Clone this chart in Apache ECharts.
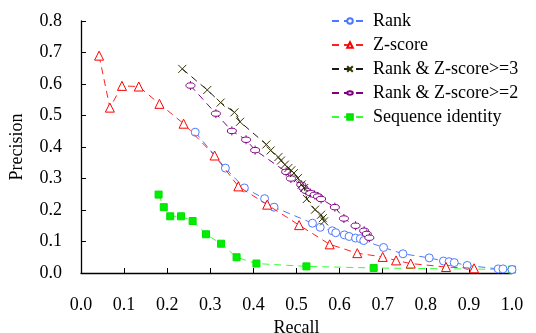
<!DOCTYPE html>
<html>
<head>
<meta charset="utf-8">
<script src="https://cdn.jsdelivr.net/npm/echarts@6/dist/echarts.min.js"></script>
<style>html,body{margin:0;padding:0;background:#fff}#c{width:536px;height:333px}</style>
</head>
<body>
<div id="c"></div>
<script>
var seriesNames = ['Rank', 'Z-score', 'Rank & Z-score>=3', 'Rank & Z-score>=2', 'Sequence identity'];
var xTicks = [0, 0.1, 0.2, 0.3, 0.4, 0.5, 0.6, 0.7, 0.8, 0.9, 1.0];
var yTicks = [0, 0.1, 0.2, 0.3, 0.4, 0.5, 0.6, 0.7, 0.8];

var rankRecall = [0.265,0.335,0.379,0.426,0.448,0.537,0.555,0.583,0.591,0.611,0.622,0.637,0.648,0.656,0.702,0.747,0.808,0.841,0.854,0.866,0.896,0.968,0.979,1.0];
var rankPrec   = [0.447,0.333,0.270,0.236,0.209,0.158,0.145,0.134,0.128,0.121,0.116,0.111,0.109,0.103,0.081,0.061,0.048,0.038,0.036,0.033,0.024,0.013,0.013,0.011];

var zRecall = [0.042,0.067,0.095,0.134,0.182,0.238,0.310,0.365,0.432,0.506,0.577,0.641,0.700,0.731,0.765,0.847,0.912];
var zPrec   = [0.690,0.525,0.594,0.592,0.537,0.474,0.373,0.275,0.217,0.152,0.091,0.063,0.051,0.040,0.030,0.019,0.015];

var rz3Recall = [0.235,0.293,0.324,0.356,0.369,0.430,0.440,0.458,0.464,0.473,0.481,0.488,0.494,0.503,0.512,0.518,0.524,0.543,0.557,0.561,0.564];
var rz3Prec   = [0.648,0.581,0.541,0.510,0.480,0.408,0.389,0.368,0.357,0.344,0.333,0.326,0.317,0.301,0.281,0.270,0.235,0.201,0.185,0.174,0.164];

var rz2Recall = [0.254,0.313,0.350,0.383,0.404,0.476,0.487,0.511,0.516,0.522,0.532,0.542,0.550,0.557,0.589,0.610,0.637,0.657,0.663,0.669];
var rz2Prec   = [0.595,0.506,0.451,0.423,0.390,0.321,0.300,0.280,0.270,0.261,0.254,0.248,0.243,0.235,0.209,0.173,0.150,0.134,0.124,0.112];

var seqRecall = [0.180,0.192,0.207,0.232,0.259,0.290,0.325,0.361,0.407,0.523,0.679,1.0];
var seqPrec   = [0.249,0.209,0.180,0.180,0.165,0.123,0.093,0.050,0.030,0.021,0.016,0.011];

function pairs(xs, ys){ return xs.map(function(x,i){ return [x, ys[i]]; }); }

var FONT = '"Liberation Serif", "Times New Roman", serif';

function mk(name, xs, ys, color, lineColor, symbol, size, fill, dash, z){
  return {
    name: name, type: 'line', data: pairs(xs, ys),
    symbol: symbol, symbolSize: size, showSymbol: true,
    lineStyle: {color: lineColor, width: 1, type: dash},
    itemStyle: {color: fill, borderColor: color, borderWidth: 1},
    z: z, animation: false
  };
}

var chart = echarts.init(document.getElementById('c'), null, {renderer:'canvas'});
var option = {
  animation: false,
  textStyle: {fontFamily: FONT, fontSize: 18, color: '#000'},
  grid: {left: 81, right: 24, top: 21, bottom: 60, containLabel: false, outerBoundsMode: 'none'},
  legend: {
    orient: 'vertical', left: 326, top: 7,
    itemWidth: 36, itemHeight: 7, itemGap: 6,
    textStyle: {fontFamily: FONT, fontSize: 18, color: '#000'},
    data: seriesNames
  },
  xAxis: {
    type: 'value', min: 0, max: 1, interval: 0.1,
    name: 'Recall', nameLocation: 'middle', nameGap: 45,
    nameTextStyle: {fontFamily: FONT, fontSize: 18, color: '#000'},
    axisLine: {show: true, lineStyle: {color: '#000', width: 1.3}},
    axisTick: {show: true, inside: true, length: 5, lineStyle: {color: '#000'}},
    splitLine: {show: false},
    axisLabel: {fontFamily: FONT, fontSize: 18, color: '#000', margin: 23,
      formatter: function(v){ return v.toFixed(1); }}
  },
  yAxis: {
    type: 'value', min: 0, max: 0.8, interval: 0.1,
    name: 'Precision', nameLocation: 'middle', nameGap: 55, nameRotate: 90,
    nameTextStyle: {fontFamily: FONT, fontSize: 18, color: '#000'},
    axisLine: {show: true, lineStyle: {color: '#000', width: 1.3}},
    axisTick: {show: true, inside: true, length: 5, lineStyle: {color: '#000'}},
    splitLine: {show: false},
    axisLabel: {fontFamily: FONT, fontSize: 18, color: '#000', margin: 19,
      formatter: function(v){ return v.toFixed(1); }}
  },
  series: [
    mk(seriesNames[0], rankRecall, rankPrec, '#4d79ff', '#4d79ff', 'circle', 8, '#fff', [7,5], 3),
    mk(seriesNames[1], zRecall, zPrec, '#ff0000', '#ff2020', 'triangle', 9, '#fff', [7,5], 4),
    mk(seriesNames[2], rz3Recall, rz3Prec, '#333300', '#1a1a1a', 'path://M0,0L10,10M10,0L0,10', 8, '#333300', [7,5], 6),
    mk(seriesNames[3], rz2Recall, rz2Prec, '#800080', '#800080', 'path://M5,0L5,2M5,8L5,10M2,5A3,3,0,1,1,8,5A3,3,0,1,1,2,5Z', 9, '#fff', [7,5], 5),
    mk(seriesNames[4], seqRecall, seqPrec, '#00e000', '#33ff33', 'rect', 7, '#00ee00', [7,5], 2)
  ]
};
chart.setOption(option);
</script>
</body>
</html>
